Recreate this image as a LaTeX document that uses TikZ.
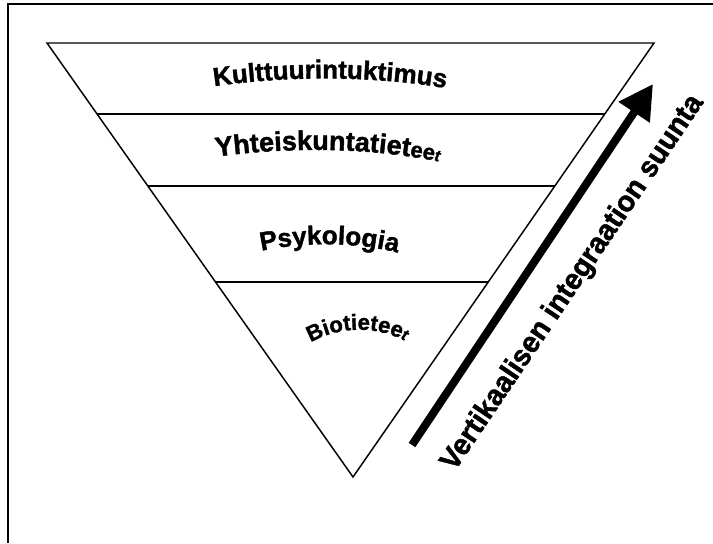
\documentclass[tikz,border=0pt]{standalone}
\usepackage{fontspec}
\setmainfont{Liberation Sans}
\newfontfamily\heavy{Liberation Sans Bold}[FakeBold=1.5]
\usetikzlibrary{decorations.text,arrows.meta,calc}
\newcommand\lblfont{\fontsize{19.5pt}{19.5pt}\selectfont\heavy}
\newcommand\lblbig{\fontsize{20.3pt}{20.3pt}\selectfont\heavy}
\newcommand\lblsmall{\fontsize{16.5pt}{16.5pt}\selectfont\heavy}
\newcommand\lbltiny{\fontsize{12pt}{12pt}\selectfont\heavy\itshape}
\newcommand\biofont{\fontsize{16.5pt}{16.5pt}\selectfont\heavy}
\begin{document}
\begin{tikzpicture}[x=0.75pt,y=0.75pt,
  edge/.style={line width=1.1pt, line join=miter},
  curvedlabel/.style={decorate, decoration={text along path, text align=center, text={#1}}}
]
\useasboundingbox (0,0) rectangle (713,543);
% frame
\coordinate (fbl) at (8,0);
\coordinate (ftl) at (8,539);
\coordinate (ftr) at (713,539);
\draw[line width=1.5pt] (fbl) -- (ftl) -- (ftr);
% triangle
\coordinate (tl) at (47,500);
\coordinate (tr) at (654,500);
\coordinate (bot) at (353,66);
\draw[edge] (tl) -- (tr) -- (bot) -- cycle;
\foreach \f/\n in {0.1636/a, 0.3295/b, 0.5507/c} {
  \coordinate (l\n) at ($(tl)!\f!(bot)$);
  \coordinate (r\n) at ($(tr)!\f!(bot)$);
  \draw[edge] (l\n) -- (r\n);
}
% curved labels
\path[curvedlabel={|\lblfont|Kulttuurintuktimus}] (203,455) .. controls (283,468) and (375,468) .. (457,453);
\path[curvedlabel={|\lblbig|Yhteiskuntatiet|\lblsmall|ee|\lbltiny|t}] (200,384) .. controls (283,397) and (372,397) .. (455,378);
\path[curvedlabel={|\lblfont|Psykologia}] (252,290) .. controls (300,302) and (357,302) .. (407,288);
\path[curvedlabel={|\biofont|Biotietee|\lbltiny|t}] (298,192) .. controls (333,220) and (383,220) .. (418,194);
% arrow
\coordinate (atail) at (412,98);
\coordinate (atip) at (653,459);
\draw[line width=6pt, -{Triangle[length=25.5pt,width=26.6pt]}] (atail) -- (atip);
\node[font=\fontsize{22pt}{22pt}\selectfont\heavy, rotate=56, xscale=0.97] (atext) at (573,260) {Vertikaalisen integraation suunta};
\end{tikzpicture}
\end{document}
